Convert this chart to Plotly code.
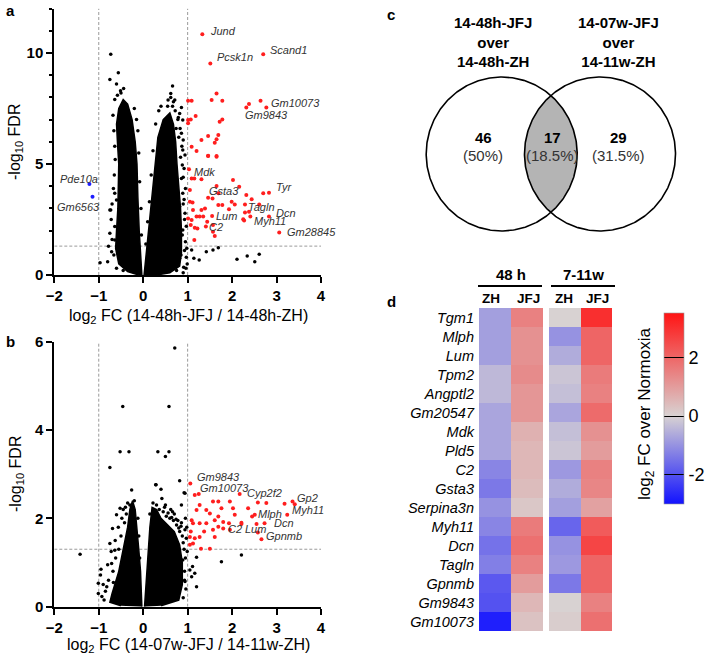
import numpy as np
import plotly.graph_objects as go

W, H = 710, 656
FONT = "Arial, Liberation Sans, sans-serif"

# ---------------- DATA ----------------
# Panel a: volcano 14-48h-JFJ / 14-48h-ZH
a_left_cloud_x = [-0.03, -0.06, -0.09, -0.12, -0.14, -0.18, -0.25, -0.35, -0.45, -0.55, -0.6, -0.58, -0.55, -0.56, -0.57, -0.6, -0.62, -0.55, -0.35, -0.1]
a_left_cloud_y = [0.0, 0.8, 2.0, 3.5, 5.0, 6.0, 7.0, 7.7, 7.9, 7.5, 6.8, 6.0, 5.0, 4.0, 3.0, 2.0, 1.2, 0.5, 0.15, 0.0]
a_right_cloud_x = [0.02, 0.06, 0.12, 0.2, 0.26, 0.33, 0.45, 0.6, 0.68, 0.73, 0.76, 0.8, 0.84, 0.86, 0.86, 0.82, 0.6, 0.3]
a_right_cloud_y = [0.0, 0.8, 2.0, 3.5, 5.0, 6.2, 7.0, 7.3, 6.8, 6.0, 5.0, 4.0, 3.0, 2.0, 1.0, 0.4, 0.1, 0.0]
a_black_x = [-0.73, -0.56, -0.75, -0.6, -0.51, -0.64, 0.66, 0.62, 0.71, 0.56, 0.86, 0.82, 0.89, 0.86, 0.9, 0.89,
             -0.73, -0.6, -0.97, -0.64, -0.71, -0.75, -0.64, -0.75, -0.64,
             0.94, 0.88, 0.86, 0.89, 0.82, 0.94, 0.89, 0.85, 0.82,
             1.09, 1.14, 1.26, 1.42, 1.57, 1.69, 2.11, 2.34, 2.61, 2.51,
             -0.68, -0.66, -0.64, -0.63, -0.65, -0.67, -0.7, -0.72, -0.7, -0.78, -0.66, -0.8, -0.6, -0.45,
             -0.12, -0.1, -0.08, -0.05, -0.04, -0.2, -0.15, -0.58, -0.5, -0.44,
             0.28, 0.35, 0.4, 0.22, 0.18, 0.14, 0.1, 0.06, 0.95, 0.97, 0.93, 0.92, 0.9, 0.84, 0.8, 0.74, 0.78,
             0.66, 0.55, 0.96, 0.98, 0.75, 0.9,
             0.92, 0.95, 0.9, 0.97, 0.88, 0.93, 0.99, 0.91, 0.87, 0.83, 0.79, 0.72, 0.68, 0.62]
a_black_y = [9.94, 9.11, 8.81, 8.6, 8.3, 7.9, 8.51, 8.18, 7.88, 7.88, 7.55, 7.28, 6.98, 6.38, 6.08, 5.63,
             2.93, 3.38, 0.55, 1.58, 1.05, 1.88, 3.68, 2.93, 2.18,
             5.4, 4.95, 4.35, 3.68, 3.08, 2.78, 2.03, 0.9, 0.75,
             1.13, 0.75, 0.68, 1.05, 1.13, 1.23, 0.71, 0.86, 0.93, 0.6,
             7.2, 6.5, 5.8, 5.2, 4.5, 3.9, 3.2, 2.5, 1.6, 1.3, 0.9, 0.6, 0.3, 0.2,
             6.5, 5.5, 4.2, 3.0, 1.8, 7.5, 7.0, 8.1, 8.2, 8.4,
             6.8, 7.4, 7.6, 5.6, 4.5, 3.3, 2.4, 1.4, 1.5, 0.8, 2.5, 3.4, 4.4, 5.3, 6.2, 6.6, 7.0,
             7.6, 7.6, 0.3, 1.2, 0.2, 0.1,
             4.8, 3.9, 3.2, 2.2, 1.8, 1.1, 0.5, 0.35, 5.8, 6.6, 7.1, 7.4, 7.8, 8.0]
a_red_x = [1.33, 2.70, 1.51, 1.65, 1.01, 1.09, 1.54, 1.78, 2.38, 2.32, 2.64, 2.77, 1.01, 1.07, 1.18, 1.72, 1.78,
           1.01, 1.31, 1.46, 1.61, 1.69, 1.65, 1.09, 1.46, 1.65, 1.2, 1.46, 1.65, 1.03, 1.09, 1.15, 1.31,
           2.02, 2.16, 1.65, 1.69, 1.46, 1.56, 1.05, 1.05, 1.11, 1.31, 1.39, 1.12, 1.69, 1.78, 1.99, 2.06,
           2.32, 2.44, 2.70, 2.83, 2.29, 2.61, 1.93, 2.29, 2.38, 2.41, 2.83, 2.25, 2.27, 3.06, 1.01, 1.09,
           1.2, 1.27, 1.35, 1.55, 1.44, 1.41, 1.57, 1.16, 1.22, 1.07, 1.57, 1.61, 1.15]
a_red_y = [10.84, 9.94, 9.53, 8.18, 7.85, 7.85, 7.88, 7.85, 7.70, 7.54, 7.85, 7.54, 6.98, 7.01, 7.16, 6.9, 7.01,
           6.83, 6.08, 6.26, 5.96, 6.31, 6.11, 5.78, 5.37, 5.36, 5.59, 5.36, 5.33, 4.76, 4.35, 4.35, 4.31,
           4.28, 3.98, 4.01, 3.68, 3.48, 3.45, 3.83, 3.3, 3.27, 2.93, 3.0, 2.93, 3.15, 3.15, 3.3, 3.18,
           3.6, 3.41, 3.68, 3.71, 3.18, 3.18, 2.96, 2.81, 2.85, 2.63, 2.63, 2.51, 2.45, 1.91, 2.55, 2.48,
           2.63, 2.63, 2.63, 2.66, 2.4, 2.18, 2.25, 2.13, 2.1, 2.25, 1.95, 1.76, 1.58]
a_blue_x = [-1.21, -1.14]
a_blue_y = [4.10, 3.53]
a_labels = [("Jund", 1.45, 10.99), ("Scand1", 2.80, 10.14), ("Pcsk1n", 1.61, 9.82), ("Gm10073", 2.82, 7.75),
            ("Gm9843", 2.24, 7.21), ("Mdk", 1.09, 4.64), ("Pde10a", -1.92, 4.32), ("Gm6563", -1.98, 3.06),
            ("Gsta3", 1.43, 3.78), ("Tyr", 2.94, 3.96), ("Tagln", 2.31, 3.06), ("Dcn", 2.94, 2.79),
            ("Lum", 1.59, 2.66), ("Myh11", 2.44, 2.43), ("C2", 1.43, 2.16), ("Gm28845", 3.18, 1.94)]

# Panel b: volcano 14-07w-JFJ / 14-11w-ZH
b_left_cloud_x = [-0.03, -0.06, -0.1, -0.14, -0.18, -0.24, -0.3, -0.35, -0.45, -0.55, -0.7, -0.75, -0.5]
b_left_cloud_y = [0.0, 0.8, 1.3, 1.8, 2.2, 2.4, 2.2, 1.8, 1.3, 0.8, 0.3, 0.1, 0.02]
b_right_cloud_x = [0.03, 0.1, 0.15, 0.2, 0.3, 0.4, 0.55, 0.7, 0.82, 0.88, 0.88, 0.8, 0.4]
b_right_cloud_y = [0.0, 1.2, 1.8, 2.25, 2.2, 2.0, 1.85, 1.7, 1.4, 1.0, 0.5, 0.15, 0.02]
b_black_x = [0.71, -0.46, 0.58, -0.52, -0.32, 0.33, 0.58, 0.5, -0.75, 0.29, 0.4, 0.82, 0.92, -0.26, -1.42,
             -0.6, -0.69, -0.52, -0.96, -1.01, -1.01, -0.93, -0.82, -0.71, -0.75, -0.64,
             0.28, 0.94, 0.86, 0.94, 0.89, 0.94, 1.2, 1.11, 1.09, 1.76, 2.21, 1.2, 1.16, 1.05,
             -0.38, -0.42, -0.5, -0.55, -0.62, -0.68, -0.78, -0.85, -0.88, -0.12, -0.1, -0.08, -0.2, -0.3, -0.45, -0.35,
             0.15, 0.22, 0.3, 0.36, 0.45, 0.52, 0.6, 0.68, 0.75, 0.82, 0.88, 0.92, 0.95, 0.93, 0.96, 0.9,
             0.7, 0.5, 0.62, 0.95, 0.98,
             0.42, 0.48, 0.56, 0.64, 0.78, 0.85, 0.9, 0.97, 0.99, 0.93, 0.86, 0.8, 0.74, 0.66,
             -0.56, -0.63, -0.72, -0.8, -0.9, -0.95, -0.67, -0.48, -0.4]
b_black_y = [5.86, 4.53, 4.53, 3.51, 3.51, 3.51, 3.51, 3.4, 3.15, 2.76, 2.66, 2.85, 2.58, 2.64, 1.19,
             2.08, 1.77, 2.23, 0.72, 0.53, 0.3, 0.23, 0.45, 0.98, 1.43, 1.28,
             2.76, 2.57, 2.3, 1.74, 1.06, 0.57, 0.45, 0.91, 0.68, 1.02, 1.17, 1.12, 0.76, 0.83,
             2.1, 1.9, 1.6, 1.3, 1.1, 0.8, 0.6, 0.35, 0.15, 2.0, 1.6, 1.1, 2.4, 2.3, 2.2, 2.35,
             2.1, 2.35, 2.3, 2.2, 2.15, 2.05, 2.0, 1.95, 1.85, 1.7, 1.6, 1.3, 1.1, 0.8, 0.4, 0.2,
             2.1, 2.3, 2.2, 2.0, 1.8,
             2.45, 2.25, 2.12, 2.02, 1.95, 1.82, 1.45, 1.55, 1.25, 0.6, 1.9, 1.78, 1.98, 2.15,
             1.8, 1.5, 1.25, 0.95, 0.5, 0.85, 0.55, 2.0, 2.25]
b_red_x = [1.06, 1.16, 1.25, 2.17, 1.27, 1.57, 1.69, 1.95, 2.58, 2.77, 3.36, 3.18, 3.41, 3.24, 1.2, 1.42, 1.5,
           1.76, 2.02, 2.36, 2.06, 2.45, 2.51, 1.09, 1.12, 1.27, 1.42, 1.61, 1.8, 1.93, 2.21, 1.95, 1.69,
           1.57, 1.37, 1.8, 2.21, 2.55, 2.73, 2.66, 2.58, 1.07, 1.16, 1.12, 1.05, 1.3, 1.5, 1.61, 1.27, 1.05, 1.69]
b_red_y = [2.79, 2.53, 2.55, 2.55, 2.3, 2.38, 2.38, 2.38, 2.36, 2.35, 2.38, 2.33, 2.32, 2.08, 2.19, 2.19, 2.11,
           2.23, 2.23, 2.23, 2.08, 2.04, 2.08, 1.96, 1.89, 1.89, 1.89, 1.96, 1.92, 1.89, 1.9, 1.74, 1.81,
           1.74, 1.7, 1.77, 1.87, 1.87, 1.89, 1.53, 1.68, 1.7, 1.55, 1.43, 1.4, 1.31, 1.31, 1.58, 1.58, 1.58, 2.04]
b_labels = [("Gm9843", 1.16, 2.94), ("Gm10073", 1.23, 2.69), ("Cyp2f2", 2.29, 2.57), ("Gp2", 3.41, 2.46),
            ("Myh11", 3.30, 2.19), ("Mlph", 2.53, 2.10), ("Dcn", 2.89, 1.90), ("C2", 1.86, 1.76),
            ("Lum", 2.24, 1.76), ("Gpnmb", 2.71, 1.60)]

fc_thresholds = [-1, 1]
fdr_threshold = 1.301

# Panel c: Venn
venn_titles = ["14-48h-JFJ<br>over<br>14-48h-ZH", "14-07w-JFJ<br>over<br>14-11w-ZH"]
venn_counts = [46, 17, 29]
venn_pcts = ["(50%)", "(18.5%)", "(31.5%)"]

# Panel d: heatmap
genes = ["Tgm1", "Mlph", "Lum", "Tpm2", "Angptl2", "Gm20547", "Mdk", "Pld5", "C2", "Gsta3",
         "Serpina3n", "Myh11", "Dcn", "Tagln", "Gpnmb", "Gm9843", "Gm10073"]
h48_zh = [-0.8, -0.8, -0.8, -0.4, -0.4, -0.7, -0.7, -0.7, -1.2, -1.4, -1.0, -1.2, -1.5, -1.3, -1.9, -2.0, -2.8]
h48_jfj = [1.5, 1.2, 1.2, 1.3, 1.1, 1.1, 0.6, 0.5, 0.5, 0.4, 0.2, 1.6, 1.8, 1.5, 1.0, 0.5, 0.3]
w711_zh = [0.0, -1.0, -0.6, -0.2, -0.3, -0.7, -0.3, -0.2, -0.9, -0.6, -0.8, -1.7, -1.0, -0.9, -1.4, 0.0, 0.1]
w711_jfj = [3.0, 2.0, 2.0, 1.6, 1.5, 1.9, 1.2, 1.0, 1.5, 1.4, 0.9, 2.2, 2.6, 2.0, 2.0, 1.5, 1.8]
heat_groups = ["48 h", "7-11w"]
heat_cols = ["ZH", "JFJ"]
cbar_min, cbar_max = -3, 3.5
cbar_ticks = [-2, 0, 2]
cbar_ticktext = ["-2", "0", "2"]


# ---------------- LAYOUT HELPERS (pixel -> paper) ----------------
def px(x):
    return x / W


def py(y):
    return 1 - y / H


fig = go.Figure()


def volcano(xa, ya, lcx, lcy, rcx, rcy, bx, by, rx, ry, blx=None, bly=None):
    for cx, cy in ((lcx, lcy), (rcx, rcy)):
        fig.add_trace(go.Scatter(x=cx, y=cy, mode="lines", fill="toself", fillcolor="black",
                                 line=dict(color="black", width=1.5), xaxis=xa, yaxis=ya,
                                 hoverinfo="skip", showlegend=False))
    fig.add_trace(go.Scatter(x=bx, y=by, mode="markers", marker=dict(color="black", size=3.5),
                             xaxis=xa, yaxis=ya, showlegend=False))
    fig.add_trace(go.Scatter(x=rx, y=ry, mode="markers", marker=dict(color="#ff1e1e", size=4),
                             xaxis=xa, yaxis=ya, showlegend=False))
    if blx:
        fig.add_trace(go.Scatter(x=blx, y=bly, mode="markers", marker=dict(color="#1e1eff", size=4),
                                 xaxis=xa, yaxis=ya, showlegend=False))


volcano("x", "y", a_left_cloud_x, a_left_cloud_y, a_right_cloud_x, a_right_cloud_y,
        a_black_x, a_black_y, a_red_x, a_red_y, a_blue_x, a_blue_y)
volcano("x2", "y2", b_left_cloud_x, b_left_cloud_y, b_right_cloud_x, b_right_cloud_y,
        b_black_x, b_black_y, b_red_x, b_red_y)

# heatmaps + colorbar
CB_X0, CB_W, CB_TOP, CB_BOT = 664, 20, 313.3, 504.3
coloraxis = dict(cmin=cbar_min, cmax=cbar_max,
                 colorscale=[[0, "#1212ff"], [-cbar_min / (cbar_max - cbar_min), "#d8d2d2"], [1, "#ff1414"]],
                 colorbar=dict(x=px(CB_X0), xanchor="left", xpad=0, ypad=0,
                               y=py((CB_TOP + CB_BOT) / 2), yanchor="middle",
                               len=(CB_BOT - CB_TOP) / H, lenmode="fraction", thickness=CB_W,
                               thicknessmode="pixels", tickvals=cbar_ticks, ticktext=cbar_ticktext,
                               ticks="inside", ticklen=CB_W,
                               tickwidth=1.3, tickcolor="black", outlinewidth=0.6, outlinecolor="#999",
                               tickfont=dict(size=18, color="black", family=FONT)))
z48 = [[a, b] for a, b in zip(h48_zh, h48_jfj)]
z711 = [[a, b] for a, b in zip(w711_zh, w711_jfj)]
fig.add_trace(go.Heatmap(z=z48, x=heat_cols, y=genes, coloraxis="coloraxis", xaxis="x3", yaxis="y3"))
fig.add_trace(go.Heatmap(z=z711, x=heat_cols, y=genes, coloraxis="coloraxis", xaxis="x4", yaxis="y4"))

# Venn (axis in pixel units)
venn_r_x, venn_r_y = 75.5, 77.0
venn_cx = [501.7, 600.0]
venn_cy = 154.0
t = np.linspace(0, 2 * np.pi, 361)
dx = (venn_cx[1] - venn_cx[0]) / 2
half = np.arccos(dx / venn_r_x)
t1 = np.linspace(-half, half, 100)
t2 = np.linspace(np.pi + half, np.pi - half, 100)
lens_x = np.concatenate([venn_cx[0] + venn_r_x * np.cos(t1), venn_cx[1] + venn_r_x * np.cos(t2)])
lens_y = np.concatenate([venn_cy + venn_r_y * np.sin(t1), venn_cy + venn_r_y * np.sin(t2)])
fig.add_trace(go.Scatter(x=lens_x, y=lens_y, fill="toself", fillcolor="#b4b4b4", mode="lines",
                         line=dict(width=0), xaxis="x5", yaxis="y5", showlegend=False, hoverinfo="skip"))
for cx in venn_cx:
    fig.add_trace(go.Scatter(x=cx + venn_r_x * np.cos(t), y=venn_cy + venn_r_y * np.sin(t), mode="lines",
                             line=dict(color="black", width=1.6), xaxis="x5", yaxis="y5",
                             showlegend=False, hoverinfo="skip"))

# ---------------- AXES ----------------
ax_common = dict(showline=True, linewidth=2, linecolor="black", ticks="outside", ticklen=6, tickwidth=2,
                 tickcolor="black", showgrid=False, zeroline=False,
                 tickfont=dict(family=FONT, size=15, color="black", weight="bold"))
fig.update_layout(
    width=W, height=H, margin=dict(l=0, r=0, t=0, b=0, autoexpand=False),
    paper_bgcolor="white", plot_bgcolor="rgba(0,0,0,0)",
    font=dict(family=FONT, color="black"), showlegend=False, coloraxis=coloraxis,
    xaxis=dict(domain=[px(54.3), px(321)], range=[-2, 4], dtick=1, anchor="y", **ax_common),
    yaxis=dict(domain=[py(275), py(8.6)], range=[0, 12], tickvals=[0, 5, 10], anchor="x",
               minor=dict(dtick=1, ticks="outside", ticklen=3, tickwidth=1.5, tickcolor="black"),
               **ax_common),
    xaxis2=dict(domain=[px(54.3), px(321)], range=[-2, 4], dtick=1, anchor="y2", **ax_common),
    yaxis2=dict(domain=[py(606.7), py(341.7)], range=[0, 6], dtick=2, anchor="x2", **ax_common),
    xaxis3=dict(domain=[px(479), px(543)], anchor="y3", showticklabels=False, ticks="", showgrid=False,
                zeroline=False),
    yaxis3=dict(domain=[py(631), py(308)], anchor="x3", autorange="reversed", ticks="", showgrid=False,
                zeroline=False, ticklabelstandoff=4,
                tickfont=dict(family=FONT, size=14.5, color="black", style="italic")),
    xaxis4=dict(domain=[px(549), px(612)], anchor="y4", showticklabels=False, ticks="", showgrid=False,
                zeroline=False),
    yaxis4=dict(domain=[py(631), py(308)], anchor="x4", autorange="reversed", showticklabels=False,
                ticks="", showgrid=False, zeroline=False),
    xaxis5=dict(domain=[px(380), px(710)], range=[380, 710], visible=False, anchor="y5"),
    yaxis5=dict(domain=[py(240), py(8)], range=[240, 8], visible=False, anchor="x5"),
)

shapes = []
dash_line = dict(color="#9a9a9a", width=1, dash="3px,2px")
for xv in fc_thresholds:
    shapes.append(dict(type="line", xref="x", yref="y", x0=xv, x1=xv, y0=0, y1=12, line=dash_line, layer="below"))
    shapes.append(dict(type="line", xref="x2", yref="y2", x0=xv, x1=xv, y0=0, y1=6, line=dash_line, layer="below"))
shapes.append(dict(type="line", xref="x", yref="y", x0=-2, x1=4, y0=fdr_threshold, y1=fdr_threshold,
                   line=dash_line, layer="below"))
shapes.append(dict(type="line", xref="x2", yref="y2", x0=-2, x1=4, y0=fdr_threshold, y1=fdr_threshold,
                   line=dash_line, layer="below"))
for x0, x1 in ((478, 542), (551, 615)):
    shapes.append(dict(type="line", xref="paper", yref="paper", x0=px(x0), x1=px(x1), y0=py(286), y1=py(286),
                       line=dict(color="black", width=2)))

ann = []
for txt, x, y in a_labels:
    ann.append(dict(text=txt, x=x, y=y, xref="x", yref="y", xanchor="left", yanchor="middle", showarrow=False,
                    font=dict(family=FONT, size=11, color="#333", style="italic")))
for txt, x, y in b_labels:
    ann.append(dict(text=txt, x=x, y=y, xref="x2", yref="y2", xanchor="left", yanchor="middle", showarrow=False,
                    font=dict(family=FONT, size=11, color="#333", style="italic")))


def add_text(text, x, y, size, weight="normal", angle=0, color="black", xanchor="center", style="normal"):
    ann.append(dict(text=text, x=px(x), y=py(y), xref="paper", yref="paper", xanchor=xanchor, yanchor="middle",
                    showarrow=False, textangle=angle,
                    font=dict(family=FONT, size=size, color=color, weight=weight, style=style)))


add_text("log<sub>2</sub> FC (14-48h-JFJ / 14-48h-ZH)", 188, 316, 16)
add_text("log<sub>2</sub> FC (14-07w-JFJ / 14-11w-ZH)", 188, 645, 16)
add_text("-log<sub>10</sub> FDR", 16, 142, 16, angle=-90)
add_text("-log<sub>10</sub> FDR", 16, 474, 16, angle=-90)
add_text("a", 10, 10, 15, weight="bold")
add_text("b", 10, 341, 15, weight="bold")
add_text("c", 391, 14, 15, weight="bold")
add_text("d", 391, 301, 15, weight="bold")

for title, cx in zip(venn_titles, (493, 618)):
    ann.append(dict(text=title, x=px(cx), y=py(42), xref="paper", yref="paper", xanchor="center",
                    yanchor="middle", showarrow=False,
                    font=dict(family=FONT, size=15, color="black", weight="bold")))
for cnt, pct, cx in zip(venn_counts, venn_pcts, (483, 552, 618)):
    add_text(str(cnt), cx, 137, 15, weight="bold")
    add_text(pct, cx, 155, 15, color="#333")

add_text(heat_groups[0], 511, 274, 15, weight="bold")
add_text(heat_groups[1], 583, 274, 15, weight="bold")
for cx, lab in zip((491, 528, 564, 597), heat_cols * 2):
    add_text(lab, cx, 298, 13.5, weight="bold")

add_text("log<sub>2</sub> FC over Normoxia", 646, 414, 17, angle=-90)

fig.update_layout(shapes=shapes, annotations=ann)
# remove the browser's default 8px page margin so the figure fills the window; hide the modebar
fig.write_html("out.html", config={"displayModeBar": False},
               post_script="document.body.style.margin='0';document.body.style.overflow='hidden';")
